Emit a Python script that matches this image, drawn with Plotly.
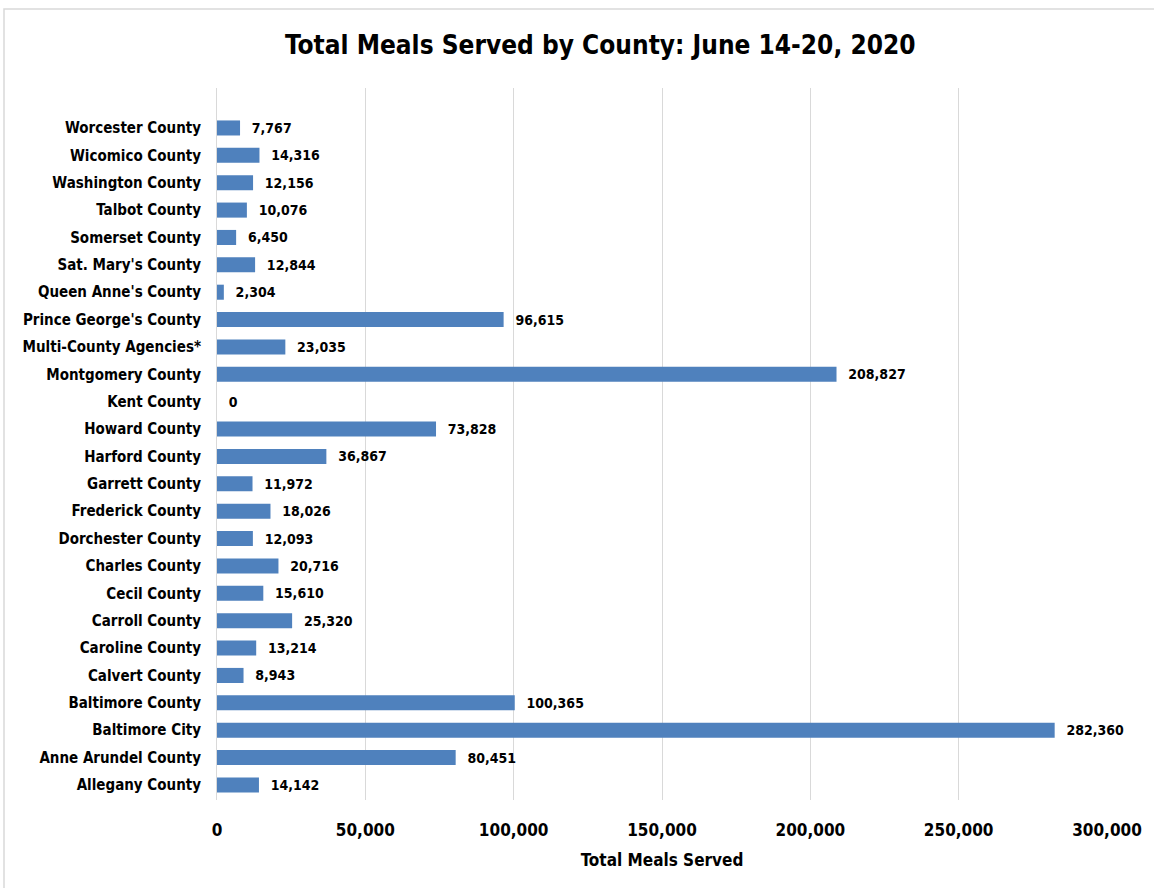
import plotly.graph_objects as go

counties = ["Allegany County", "Anne Arundel County", "Baltimore City", "Baltimore County",
            "Calvert County", "Caroline County", "Carroll County", "Cecil County",
            "Charles County", "Dorchester County", "Frederick County", "Garrett County",
            "Harford County", "Howard County", "Kent County", "Montgomery County",
            "Multi-County Agencies*", "Prince George's County", "Queen Anne's County",
            "Sat. Mary's County", "Somerset County", "Talbot County", "Washington County",
            "Wicomico County", "Worcester County"]
meals = [14142, 80451, 282360, 100365, 8943, 13214, 25320, 15610, 20716, 12093, 18026,
         11972, 36867, 73828, 0, 208827, 23035, 96615, 2304, 12844, 6450, 10076, 12156,
         14316, 7767]
x_ticks = [0, 50000, 100000, 150000, 200000, 250000, 300000]
tick_labels = ["0", "50,000", "100,000", "150,000", "200,000", "250,000", "300,000"]

FONT = "DejaVu Sans Condensed, Liberation Sans Narrow, sans-serif"

W, H = 1154, 888
L, T = 217, 88
R = W - 1107
B = H - 800
pw, ph = W - L - R, H - T - B

fig = go.Figure()
fig.add_trace(go.Bar(
    y=counties, x=meals, orientation="h",
    marker=dict(color="#4F81BD", line=dict(width=0)),
    text=[f"<b>  {v:,}</b>" for v in meals],
    textposition="outside",
    constraintext="none",
    textfont=dict(family=FONT, size=14, color="#000000"),
    cliponaxis=False,
    width=0.55,
))

fig.update_layout(
    width=W, height=H,
    margin=dict(l=L, r=R, t=T, b=B, autoexpand=False),
    plot_bgcolor="white", paper_bgcolor="white",
    showlegend=False,
    font=dict(family=FONT, color="#000000"),
    xaxis=dict(
        range=[0, 300000], tickvals=x_ticks,
        ticktext=[f"<b>{t}</b>" for t in tick_labels],
        showgrid=True, gridcolor="#D9D9D9", gridwidth=1,
        zeroline=False, showline=False, automargin=False,
        tickfont=dict(family=FONT, size=17, color="#000000"),
        ticks="", ticklabelstandoff=18,
        title=dict(text="<b>Total Meals Served</b>", font=dict(family=FONT, size=17), standoff=15),
    ),
    yaxis=dict(
        categoryorder="array", categoryarray=counties,
        showline=True, linecolor="#D9D9D9", linewidth=1,
        showgrid=False, ticks="", automargin=False,
        tickfont=dict(family=FONT, size=15, color="#000000"),
        tickprefix="<b>", ticksuffix="</b>",
        ticklabelstandoff=12,
        range=[-0.55, 25.46],
    ),
)

# chart frame
fig.add_shape(type="rect", xref="paper", yref="paper",
              x0=(4 - L) / pw, x1=(W + 20 - L) / pw,
              y0=-(B + 20) / ph, y1=(H - B - 9) / ph,
              line=dict(color="#D9D9D9", width=1.5), fillcolor="rgba(0,0,0,0)", layer="below")

fig.add_annotation(text="<b>Total Meals Served by County: June 14-20, 2020</b>",
                   xref="paper", yref="paper",
                   x=(600 - L) / pw, y=(H - B - 45) / ph,
                   xanchor="center", yanchor="middle", showarrow=False,
                   font=dict(family=FONT, size=26, color="#000000"))

fig.write_html("out.html", config={"displayModeBar": False},
               post_script="document.body.style.margin='0';")
